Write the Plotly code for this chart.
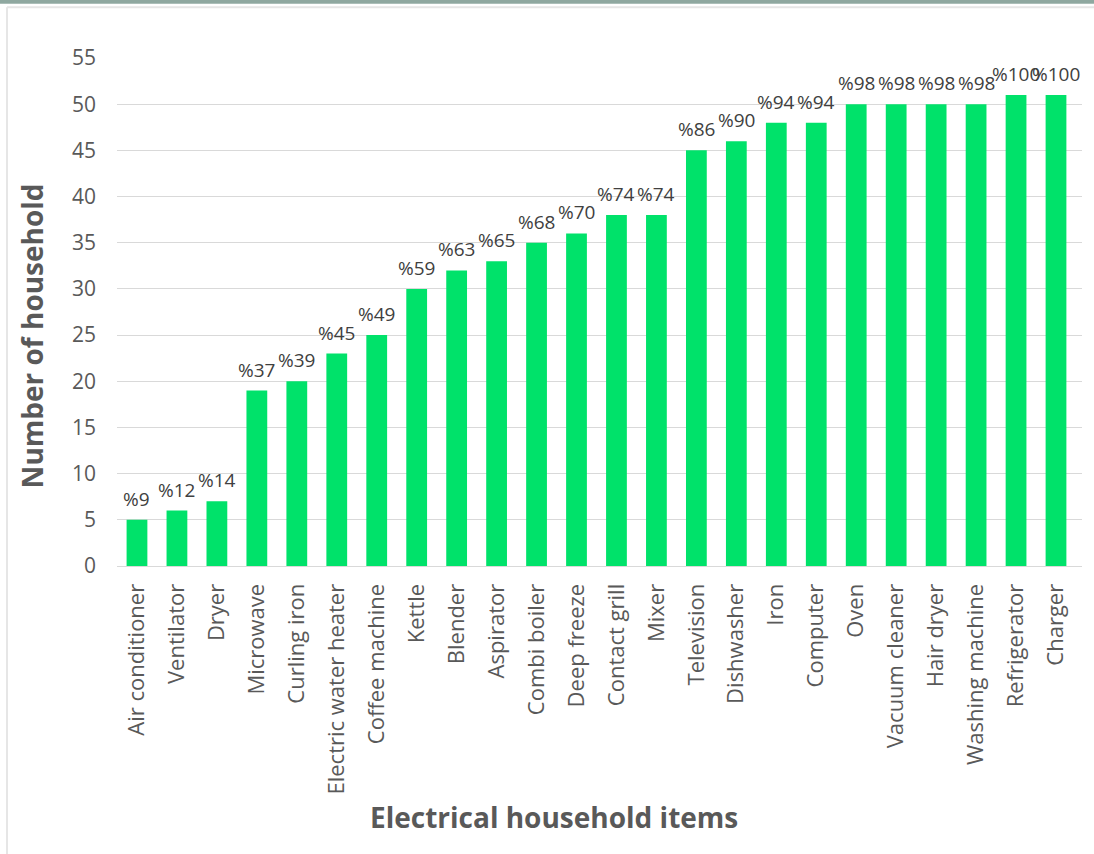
import plotly.graph_objects as go

items = ["Air conditioner", "Ventilator", "Dryer", "Microwave", "Curling iron",
         "Electric water heater", "Coffee machine", "Kettle", "Blender", "Aspirator",
         "Combi boiler", "Deep freeze", "Contact grill", "Mixer", "Television",
         "Dishwasher", "Iron", "Computer", "Oven", "Vacuum cleaner", "Hair dryer",
         "Washing machine", "Refrigerator", "Charger"]
households = [5, 6, 7, 19, 20, 23, 25, 30, 32, 33, 35, 36, 38, 38, 45, 46, 48, 48,
              50, 50, 50, 50, 51, 51]
percent_labels = ["%9", "%12", "%14", "%37", "%39", "%45", "%49", "%59", "%63", "%65",
                  "%68", "%70", "%74", "%74", "%86", "%90", "%94", "%94", "%98", "%98",
                  "%98", "%98", "%100", "%100"]
y_ticks = list(range(0, 56, 5))

FONT = "Open Sans"
GREY = "#595959"

fig = go.Figure()
fig.add_trace(go.Bar(
    x=items, y=households,
    marker=dict(color="#00E26A", line=dict(width=0)),
    hoverinfo="x+y",
))

label_annotations = [
    dict(x=it, y=v, xref="x", yref="y", text=lab, showarrow=False,
         xanchor="center", yanchor="middle", yshift=21,
         font=dict(family=FONT, size=19, color="#404040"))
    for it, v, lab in zip(items, households, percent_labels)
]

fig.update_layout(
    width=1094, height=854,
    margin=dict(l=117, r=12, t=58, b=288),
    paper_bgcolor="white", plot_bgcolor="white",
    bargap=0.48, showlegend=False,
    font=dict(family=FONT, color=GREY),
    xaxis=dict(tickangle=-90, tickfont=dict(family=FONT, size=22, color=GREY),
               showgrid=False, showline=True, linecolor="#D9D9D9", ticks="",
               ticklabelstandoff=8, automargin=False),
    yaxis=dict(range=[0, 55], tickvals=y_ticks, tickfont=dict(family=FONT, size=21, color=GREY),
               showgrid=True, gridcolor="#D9D9D9", gridwidth=1, zeroline=False,
               showline=False, ticks="", ticklabelstandoff=20, automargin=False),
    annotations=label_annotations + [
        dict(text="<b>Electrical household items</b>", xref="paper", yref="paper",
             x=0.453, y=-0.494, xanchor="center", yanchor="middle", showarrow=False,
             font=dict(family=FONT, size=28, color=GREY)),
        dict(text="<b>Number of household</b>", xref="paper", yref="paper",
             x=-0.0886, y=0.453, xanchor="center", yanchor="middle", showarrow=False,
             textangle=-90, font=dict(family=FONT, size=28, color=GREY)),
    ],
    shapes=[
        dict(type="rect", xref="paper", yref="paper", x0=-0.2, x1=1.02, y0=1.107, y1=1.2,
             fillcolor="#8FA8A0", line=dict(width=0), layer="below"),
        dict(type="line", xref="paper", yref="paper", x0=-0.114, x1=1.02, y0=1.100, y1=1.100,
             line=dict(color="#E6E6E6", width=2)),
        dict(type="line", xref="paper", yref="paper", x0=-0.114, x1=-0.114, y0=-0.6, y1=1.100,
             line=dict(color="#E6E6E6", width=2)),
    ],
)

fig.write_html("out.html")
